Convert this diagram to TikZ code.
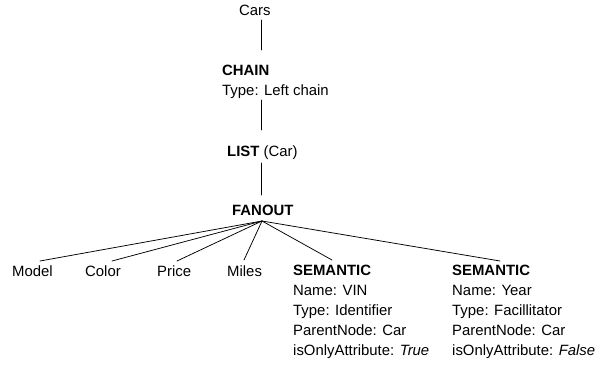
\documentclass[tikz,border=0pt]{standalone}
\usepackage{fontspec}
\setmainfont{Liberation Sans}
\begin{document}
\begin{tikzpicture}[x=1pt,y=-1pt,
  lbl/.style={anchor=base west, inner sep=0pt, font=\fontsize{14.9}{20}\selectfont},
  edge/.style={line width=0.75pt, line cap=round}]
\useasboundingbox (0,0) rectangle (596,367);
% top chain
\node[lbl] (cars) at (239,15) {Cars};
\node[lbl] (chain) at (222,75) {\textbf{CHAIN}};
\node[lbl] (chaintype) at (222,95) {Type: Left chain};
\node[lbl] (list) at (227,156) {\textbf{LIST} (Car)};
\node[lbl] (fanout) at (232,215) {\textbf{FANOUT}};
% leaves
\node[lbl] (model) at (12,276) {Model};
\node[lbl] (color) at (85,276) {Color};
\node[lbl] (price) at (157,276) {Price};
\node[lbl] (miles) at (227,276) {Miles};
% semantic 1
\node[lbl] (sa) at (293,275) {\textbf{SEMANTIC}};
\node[lbl] (sa2) at (293,295) {Name: VIN};
\node[lbl] (sa3) at (293,315) {Type: Identifier};
\node[lbl] (sa4) at (293,335) {ParentNode: Car};
\node[lbl] (sa5) at (293,355) {isOnlyAttribute: \textit{True}};
% semantic 2
\node[lbl] (sb) at (452,275) {\textbf{SEMANTIC}};
\node[lbl] (sb2) at (452,295) {Name: Year};
\node[lbl] (sb3) at (452,315) {Type: Facillitator};
\node[lbl] (sb4) at (452,335) {ParentNode: Car};
\node[lbl] (sb5) at (452,355) {isOnlyAttribute: \textit{False}};
% connector end points
\coordinate (carsB) at (261,20);
\coordinate (chainT) at (261,50);
\coordinate (chainB) at (261,100);
\coordinate (listT) at (261,130);
\coordinate (listB) at (261,163);
\coordinate (fanT) at (261,195);
\coordinate (apex) at (262,221);
\coordinate (modelT) at (40,261);
\coordinate (colorT) at (112,261);
\coordinate (priceT) at (177,261);
\coordinate (milesT) at (244,260);
\coordinate (saT) at (332,260);
\coordinate (sbT) at (500,261);
\draw[edge] (carsB) -- (chainT);
\draw[edge] (chainB) -- (listT);
\draw[edge] (listB) -- (fanT);
\foreach \e in {modelT,colorT,priceT,milesT,saT,sbT}
  \draw[edge] (apex) -- (\e);
\end{tikzpicture}
\end{document}
